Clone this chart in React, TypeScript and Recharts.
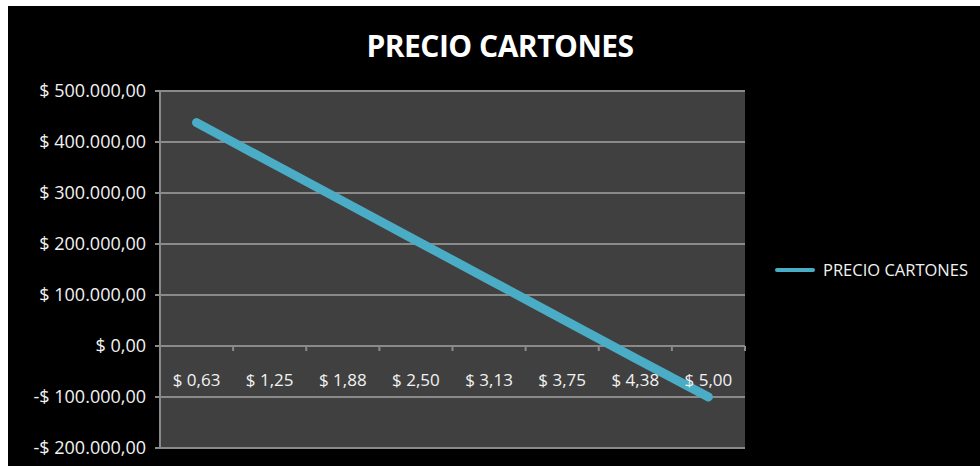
import React from 'react';
import {
  LineChart,
  Line,
  XAxis,
  YAxis,
  CartesianGrid,
  ReferenceLine,
} from 'recharts';

// prices per cartón (categories) and the resulting value
const categories = ['$ 0,63', '$ 1,25', '$ 1,88', '$ 2,50', '$ 3,13', '$ 3,75', '$ 4,38', '$ 5,00'];
const precioCartones = [438000, 361000, 284000, 207000, 130000, 53000, -24000, -100000];
const yTicks = [-200000, -100000, 0, 100000, 200000, 300000, 400000, 500000];

const data = categories.map((c, i) => ({ name: c, value: precioCartones[i] }));

const W = 972;
const H = 460;
const margin = { top: 85, right: 235, bottom: 17, left: 0 };
const plotH = H - margin.top - margin.bottom - 1;
const plotW = W - margin.right - 152;
const yMin = -200000;
const yMax = 500000;
const zeroY = margin.top + (plotH * (yMax - 0)) / (yMax - yMin);
const band = plotW / categories.length;

const FONT = '"Open Sans", sans-serif';
const GRID = '#8a8a8a';
const LINE = '#4bacc6';

const fmtMoney = (v: number) => {
  const abs = Math.abs(v);
  const s = abs.toFixed(2).replace('.', ',');
  const [int, dec] = s.split(',');
  const withDots = int.replace(/\B(?=(\d{3})+(?!\d))/g, '.');
  return `${v < 0 ? '-' : ''}$ ${withDots},${dec}`;
};

// category labels sit just under the zero line, like Excel does
const CatTick = ({ x, payload }: any) => (
  <g>
    <line x1={x + band / 2} x2={x + band / 2} y1={zeroY} y2={zeroY + 5} stroke={GRID} strokeWidth={2} />
    <text x={x} y={zeroY + 35} textAnchor="middle" dominantBaseline="middle" fill="#f2f2f2" fontSize={17} fontFamily={FONT}>
      {payload.value}
    </text>
  </g>
);

export default function App() {
  return (
    <div style={{ position: 'absolute', top: 6, left: 8, width: W, height: H, background: '#000' }}>
      <div
        style={{
          position: 'absolute',
          top: 19,
          left: 0,
          width: 984,
          textAlign: 'center',
          color: '#fff',
          fontFamily: FONT,
          fontWeight: 700,
          fontSize: 30,
          letterSpacing: -0.5,
        }}
      >
        PRECIO CARTONES
      </div>
      <LineChart width={W} height={H} data={data} margin={margin}>
        <CartesianGrid vertical={false} stroke={GRID} strokeWidth={2} fill="#404040" fillOpacity={1} />
        <XAxis
          dataKey="name"
          height={1}
          axisLine={false}
          tickLine={false}
          tick={<CatTick />}
          interval={0}
          padding={{ left: band / 2, right: band / 2 }}
        />
        <YAxis
          width={152}
          domain={[yMin, yMax]}
          ticks={yTicks}
          tickFormatter={fmtMoney}
          axisLine={{ stroke: GRID, strokeWidth: 2 }}
          tickLine={{ stroke: GRID, strokeWidth: 2 }}
          tickSize={5}
          tickMargin={9}
          tick={{ fill: '#f2f2f2', fontSize: 18, fontFamily: FONT }}
        />
        <ReferenceLine y={0} stroke={GRID} strokeWidth={2} />
        <Line
          dataKey="value"
          name="PRECIO CARTONES"
          stroke={LINE}
          strokeWidth={9}
          strokeLinecap="round"
          dot={false}
          isAnimationActive={false}
        />
      </LineChart>
      <div
        style={{
          position: 'absolute',
          left: 767,
          top: 252,
          display: 'flex',
          alignItems: 'center',
          gap: 8,
          color: '#f2f2f2',
          fontFamily: FONT,
          fontSize: 16.5,
        }}
      >
        <div style={{ width: 40, height: 4, background: LINE, borderRadius: 2 }} />
        <span>PRECIO CARTONES</span>
      </div>
    </div>
  );
}
